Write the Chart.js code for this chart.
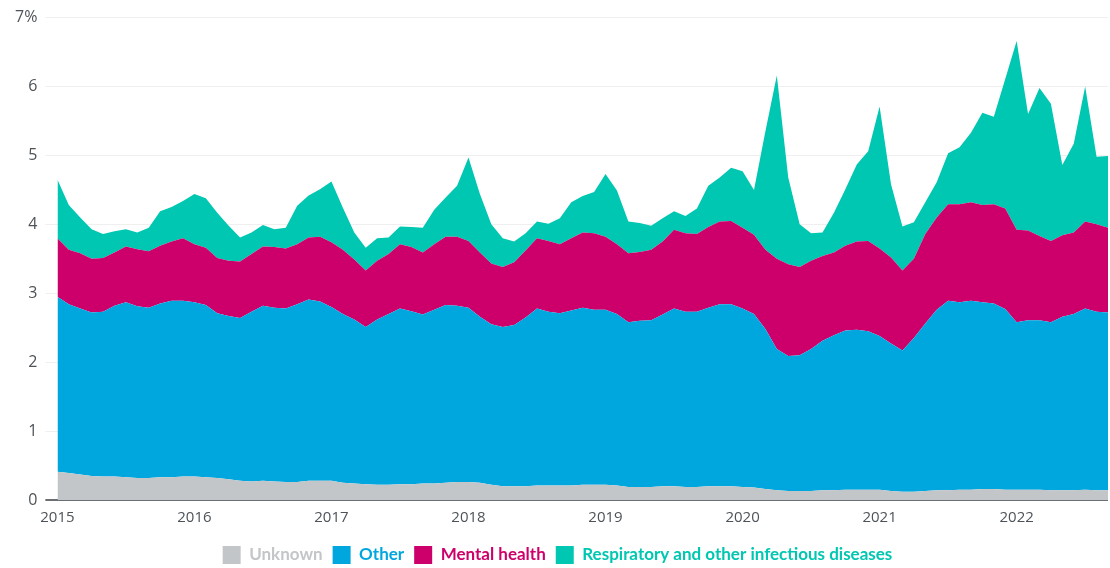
<!DOCTYPE html>
<html>
<head>
<meta charset="utf-8">
<script src="https://cdn.jsdelivr.net/npm/chart.js@4.4.1/dist/chart.umd.min.js"></script>
<style>
  html, body { margin: 0; padding: 0; background: #ffffff; }
  #wrap { width: 1110px; height: 568px; position: relative; }
</style>
</head>
<body>
<div id="wrap"><canvas id="c" width="1110" height="568"></canvas></div>
<script>
// Tick labels (years) and monthly categories Jan 2015 – Sep 2022
const years = ['2015', '2016', '2017', '2018', '2019', '2020', '2021', '2022'];
const monthNames = ['Jan','Feb','Mar','Apr','May','Jun','Jul','Aug','Sep','Oct','Nov','Dec'];
const lastYearMonths = 9;
const categories = [];
years.forEach((y, yi) => {
  const n = yi === years.length - 1 ? lastYearMonths : 12;
  for (let m = 0; m < n; m++) categories.push(monthNames[m] + ' ' + y);
});

// Series values (% share)
const unknown = [0.41,0.39,0.37,0.35,0.34,0.34,0.33,0.32,0.32,0.33,
  0.33,0.34,0.34,0.33,0.32,0.30,0.28,0.27,0.28,0.27,
  0.26,0.26,0.28,0.28,0.28,0.25,0.24,0.23,0.22,0.22,
  0.23,0.23,0.24,0.24,0.25,0.26,0.26,0.25,0.22,0.20,
  0.20,0.20,0.21,0.21,0.21,0.21,0.22,0.22,0.22,0.21,
  0.19,0.19,0.19,0.20,0.20,0.19,0.19,0.20,0.20,0.20,
  0.19,0.18,0.16,0.14,0.13,0.13,0.13,0.14,0.14,0.15,
  0.15,0.15,0.15,0.13,0.12,0.12,0.13,0.14,0.14,0.15,
  0.15,0.16,0.16,0.15,0.15,0.15,0.15,0.14,0.14,0.14,
  0.15,0.14,0.14];

const other = [2.54,2.45,2.41,2.37,2.39,2.48,2.54,2.49,2.47,2.52,
  2.56,2.55,2.53,2.50,2.39,2.37,2.36,2.46,2.54,2.52,
  2.52,2.58,2.63,2.60,2.52,2.45,2.38,2.28,2.40,2.48,
  2.55,2.51,2.45,2.52,2.58,2.56,2.53,2.41,2.33,2.31,
  2.34,2.45,2.57,2.52,2.50,2.54,2.57,2.54,2.54,2.49,
  2.39,2.41,2.42,2.49,2.58,2.54,2.54,2.59,2.64,2.64,
  2.59,2.52,2.32,2.05,1.96,1.97,2.06,2.17,2.25,2.31,
  2.32,2.30,2.23,2.14,2.05,2.23,2.43,2.62,2.75,2.72,
  2.74,2.71,2.69,2.62,2.43,2.46,2.46,2.44,2.52,2.56,
  2.63,2.59,2.58];

const mentalHealth = [0.85,0.79,0.80,0.78,0.78,0.77,0.81,0.83,0.82,0.84,
  0.86,0.91,0.84,0.83,0.80,0.80,0.82,0.84,0.86,0.88,
  0.87,0.87,0.90,0.94,0.94,0.93,0.87,0.82,0.85,0.87,
  0.93,0.93,0.90,0.95,0.99,1.00,0.97,0.93,0.88,0.87,
  0.91,0.97,1.02,1.03,1.00,1.05,1.09,1.11,1.06,1.01,
  1.00,1.00,1.02,1.06,1.14,1.14,1.13,1.17,1.20,1.21,
  1.17,1.15,1.15,1.31,1.33,1.28,1.28,1.23,1.20,1.23,
  1.28,1.31,1.27,1.25,1.16,1.15,1.30,1.34,1.40,1.42,
  1.43,1.41,1.44,1.46,1.34,1.30,1.22,1.18,1.18,1.18,
  1.26,1.27,1.23];

const respiratory = [0.85,0.65,0.52,0.43,0.35,0.31,0.25,0.24,0.34,0.50,
  0.50,0.54,0.73,0.72,0.66,0.51,0.35,0.31,0.31,0.26,
  0.30,0.56,0.61,0.69,0.88,0.61,0.39,0.33,0.33,0.24,
  0.26,0.29,0.36,0.50,0.57,0.74,1.21,0.85,0.57,0.42,
  0.30,0.25,0.24,0.25,0.38,0.52,0.53,0.60,0.91,0.78,
  0.46,0.42,0.35,0.34,0.27,0.25,0.37,0.60,0.64,0.77,
  0.82,0.65,1.72,2.66,1.26,0.62,0.40,0.34,0.58,0.82,
  1.12,1.30,2.06,1.06,0.64,0.53,0.46,0.51,0.74,0.83,
  1.01,1.34,1.27,1.88,2.74,1.69,2.15,1.99,1.02,1.29,
  1.96,0.98,1.04];

const seriesNames = ['Unknown', 'Other', 'Mental health', 'Respiratory and other infectious diseases'];
const seriesColors = ['#c3c6c8', '#00a7df', '#cd006b', '#00c7b1'];
const legendTextColors = ['#c3c6c8', '#00a7df', '#cd006b', '#00c7b1'];
const yTickLabels = ['0', '1', '2', '3', '4', '5', '6', '7%'];

const seriesData = [unknown, other, mentalHealth, respiratory];

const datasets = seriesData.map((d, i) => ({
  label: seriesNames[i],
  data: d,
  backgroundColor: seriesColors[i],
  borderColor: seriesColors[i],
  borderWidth: 0,
  pointRadius: 0,
  pointHoverRadius: 0,
  tension: 0,
  fill: i === 0 ? 'origin' : '-1'
}));

new Chart(document.getElementById('c'), {
  type: 'line',
  data: { labels: categories, datasets },
  options: {
    responsive: false,
    animation: false,
    events: [],
    layout: { padding: { top: 9, right: 2, left: 7, bottom: -6 } },
    scales: {
      x: {
        type: 'category',
        offset: false,
        grid: { display: false, drawTicks: false },
        border: { display: false },
        ticks: {
          autoSkip: false,
          maxRotation: 0,
          padding: 9,
          color: '#4d5358',
          font: { family: 'Open Sans', size: 15 },
          callback: function (v, idx) { return idx % 12 === 0 ? years[idx / 12] : null; }
        }
      },
      y: {
        stacked: true,
        min: 0,
        max: 7,
        grid: {
          color: ctx => ctx.tick && ctx.tick.value === 0 ? '#6b6f73' : '#efefef',
          lineWidth: ctx => ctx.tick && ctx.tick.value === 0 ? 2 : 1,
          drawTicks: true,
          tickLength: 12
        },
        border: { display: false },
        ticks: {
          stepSize: 1,
          padding: 8,
          color: '#4d5358',
          font: { family: 'Open Sans', size: 16 },
          callback: v => yTickLabels[v]
        }
      }
    },
    plugins: {
      tooltip: { enabled: false },
      legend: {
        position: 'bottom',
        labels: {
          boxWidth: 18,
          boxHeight: 18,
          padding: 10,
          font: { family: 'Lato', size: 17, weight: 'bold' },
          generateLabels: function (chart) {
            return chart.data.datasets.map((ds, i) => ({
              text: ds.label,
              fillStyle: ds.backgroundColor,
              strokeStyle: ds.backgroundColor,
              lineWidth: 0,
              fontColor: legendTextColors[i],
              hidden: false,
              datasetIndex: i
            }));
          }
        }
      }
    }
  }
});
</script>
</body>
</html>
